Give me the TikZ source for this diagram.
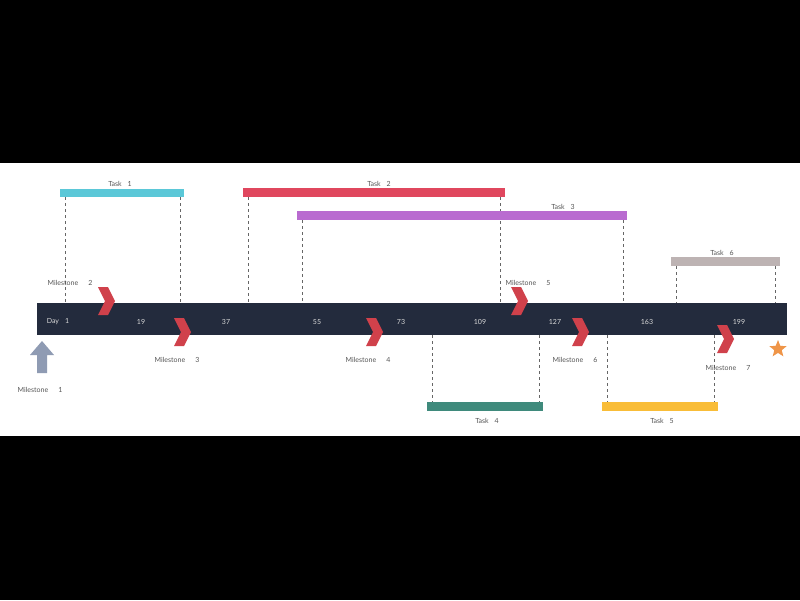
\documentclass[tikz,border=0pt]{standalone}
\usepackage{fontspec}
\setmainfont{Lato}
\usetikzlibrary{shapes.geometric}
\definecolor{bar}{HTML}{232B3D}
\definecolor{ms}{HTML}{D0414B}
\definecolor{lbl}{HTML}{555555}
\definecolor{cA}{HTML}{5BC8D8}
\definecolor{cB}{HTML}{E0475E}
\definecolor{cC}{HTML}{B96BD0}
\definecolor{cD}{HTML}{BDB3B3}
\definecolor{cE}{HTML}{3F8A7C}
\definecolor{cF}{HTML}{F9BD38}
\definecolor{cG}{HTML}{8F9BB3}
\definecolor{cH}{HTML}{EF9548}
\tikzset{
 lab/.style={font=\fontsize{7}{8}\selectfont, text=lbl, inner sep=0},
 daylab/.style={font=\fontsize{7}{8}\selectfont, text=white!85!black, inner sep=0},
 dash line/.style={draw=gray!80!black, dashed, line width=0.9pt},
}
\newcommand{\chev}[2]{\fill[ms] (#1-8,#2-14) -- (#1+2,#2-14) -- (#1+9,#2) -- (#1+2,#2+14) -- (#1-8,#2+14) -- (#1-1,#2) -- cycle;}
\begin{document}
\begin{tikzpicture}[x=1pt,y=-1pt]
\fill[black] (0,0) rectangle (800,600);
\fill[white] (0,163) rectangle (800,436);
\useasboundingbox (0,0) rectangle (800,600);
% dashed lines
\foreach \x/\a/\b in {65/197/303,180/197/303,248/197/303,500/197/303,302/220/303,623/220/303,676/266/303,775/266/303,432/335/402,539/335/402,607/335/402,714/335/402}
  \draw[dash line] (\x,\a) -- (\x,\b);
% timeline
\fill[bar] (37,303) rectangle (787,335);
% task bars
\fill[cA] (60,189) rectangle (184,197);
\fill[cB] (243,188) rectangle (505,197);
\fill[cC] (297,211) rectangle (627,220);
\fill[cD] (671,257) rectangle (780,266);
\fill[cE] (427,402) rectangle (543,411);
\fill[cF] (602,402) rectangle (718,411);
\node[lab] (t1) at (120,184) {Task\hspace{6pt}1};
\node[lab] (t2) at (379,184) {Task\hspace{6pt}2};
\node[lab] (t3) at (563,207) {Task\hspace{6pt}3};
\node[lab] (t6) at (722,253) {Task\hspace{6pt}6};
\node[lab] (t4) at (487,421) {Task\hspace{6pt}4};
\node[lab] (t5) at (662,421) {Task\hspace{6pt}5};
% day labels
\node[daylab] (d1) at (58,322) {Day\hspace{6pt}1};
\foreach \x/\t in {141/19,226/37,317/55,401/73,480/109,555/127,647/163,739/199}
  \node[daylab] at (\x,322) {\t};
% chevrons
\chev{106}{301}
\chev{182}{332}
\chev{374}{332}
\chev{519}{301}
\chev{580}{332}
\chev{725}{339}
% milestone labels
\node[lab] (m1) at (40,390) {Milestone\hspace{10pt}1};
\node[lab] (m2) at (70,283) {Milestone\hspace{10pt}2};
\node[lab] (m3) at (177,360) {Milestone\hspace{10pt}3};
\node[lab] (m4) at (368,360) {Milestone\hspace{10pt}4};
\node[lab] (m5) at (528,283) {Milestone\hspace{10pt}5};
\node[lab] (m6) at (575,360) {Milestone\hspace{10pt}6};
\node[lab] (m7) at (728,368) {Milestone\hspace{10pt}7};
% up arrow
\fill[cG] (42,341) -- (54,355) -- (47,355) -- (47,373) -- (37,373) -- (37,355) -- (30,355) -- cycle;
% star
\node[star, star points=5, star point ratio=2.3, fill=cH, minimum size=18pt, inner sep=0] (st) at (778,349) {};
\end{tikzpicture}
\end{document}
